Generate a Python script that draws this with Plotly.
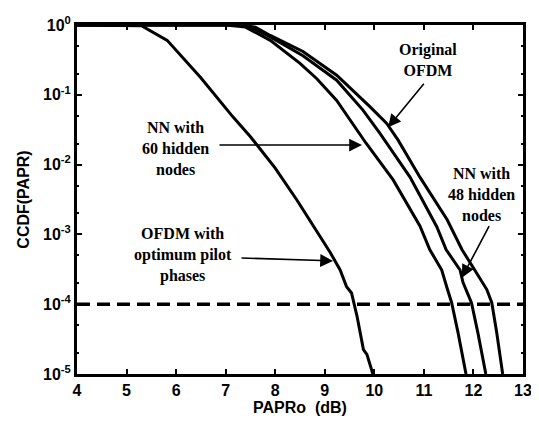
import plotly.graph_objects as go

# ---- data ----
pilot_x = [4.0, 5.0, 5.3, 5.82, 6.49, 7.15, 7.50, 7.70, 8.0, 8.44, 9.11, 9.31, 9.44, 9.54, 9.65, 9.78, 9.85, 9.97]
pilot_y = [1.0, 0.993, 0.977, 0.603, 0.178, 0.0479, 0.0251, 0.0166, 8.91e-3, 3.09e-3, 5.5e-4, 3.09e-4,
           1.78e-4, 1.45e-4, 6.76e-5, 2.24e-5, 1.91e-5, 1.0e-5]

nn60_x = [4.0, 7.0, 7.4, 7.9, 8.5, 8.84, 9.24, 9.83, 10.38, 10.92, 11.12, 11.36, 11.46, 11.56, 11.69, 11.85]
nn60_y = [1.0, 1.0, 0.933, 0.603, 0.282, 0.170, 0.0832, 0.0204, 6.03e-3, 1.32e-3, 6.03e-4, 3.09e-4,
          1.78e-4, 1.05e-4, 3.89e-5, 1.0e-5]

nn48_x = [4.0, 7.2, 7.5, 7.9, 8.56, 9.24, 9.77, 10.11, 10.72, 11.26, 11.45, 11.73, 11.79, 11.96, 12.09, 12.25]
nn48_y = [1.0, 1.0, 0.933, 0.676, 0.363, 0.162, 0.0603, 0.0282, 6.61e-3, 1.29e-3, 6.03e-4, 3.09e-4,
          2.04e-4, 1.05e-4, 3.89e-5, 1.0e-5]

orig_x = [4.0, 7.3, 7.6, 7.9, 8.56, 9.24, 9.91, 10.25, 10.48, 10.92, 11.47, 11.77, 12.06, 12.27, 12.37, 12.47, 12.59]
orig_y = [1.0, 1.0, 0.933, 0.708, 0.417, 0.191, 0.0676, 0.0389, 0.0224, 6.61e-3, 1.62e-3, 6.03e-4,
          2.82e-4, 1.62e-4, 1.05e-4, 3.89e-5, 1.0e-5]

threshold_x = [4, 13]
threshold_y = [1e-4, 1e-4]

x_ticks = [4, 5, 6, 7, 8, 9, 10, 11, 12, 13]
x_ticktext = ["<b>%d</b>" % v for v in x_ticks]
y_ticks = [1e-5, 1e-4, 1e-3, 1e-2, 1e-1, 1]
y_ticktext = ["<b>10<sup>-5</sup></b>", "<b>10<sup>-4</sup></b>", "<b>10<sup>-3</sup></b>",
              "<b>10<sup>-2</sup></b>", "<b>10<sup>-1</sup></b>", "<b>10<sup>0</sup></b>"]

fig = go.Figure()
line_style = dict(color="black", width=3)
for xs, ys, nm in [(pilot_x, pilot_y, "OFDM with optimum pilot phases"),
                   (nn60_x, nn60_y, "NN with 60 hidden nodes"),
                   (nn48_x, nn48_y, "NN with 48 hidden nodes"),
                   (orig_x, orig_y, "Original OFDM")]:
    fig.add_trace(go.Scatter(x=xs, y=ys, mode="lines", line=line_style, name=nm))

fig.add_trace(go.Scatter(x=threshold_x, y=threshold_y, mode="lines",
                         line=dict(color="black", width=3.5, dash="13px,7px"), name="1e-4"))

tick_font = dict(family="Liberation Sans", size=16, color="black")
title_font = dict(family="Liberation Sans", size=16, color="black")
fig.update_layout(
    width=531, height=416,
    margin=dict(l=69, r=16, t=17, b=50),
    paper_bgcolor="white", plot_bgcolor="white",
    showlegend=False,
    xaxis=dict(range=[4, 13], tickvals=x_ticks, ticktext=x_ticktext, ticks="inside", ticklen=5,
               tickwidth=2, tickcolor="black", showline=True, linecolor="black", linewidth=3,
               mirror="ticks", showgrid=False, zeroline=False, tickfont=tick_font, automargin=False,
               title=dict(text="<b>PAPRo  (dB)</b>", font=title_font, standoff=2)),
    yaxis=dict(type="log", range=[-5, 0], tickvals=y_ticks, ticktext=y_ticktext, ticks="inside",
               ticklen=5, tickwidth=2, tickcolor="black", showline=True, linecolor="black",
               linewidth=3, mirror="ticks", showgrid=False, zeroline=False, tickfont=tick_font,
               automargin=False,
               minor=dict(ticks="inside", ticklen=2, tickcolor="black", showgrid=False),
               title=dict(text="<b>CCDF(PAPR)</b>", font=title_font, standoff=10)),
)

ann_font = dict(family="Liberation Serif", size=16, color="black")
texts = [
    ("<b>NN with<br>60 hidden<br>nodes</b>", 0.220, 0.647),
    ("<b>Original<br>OFDM</b>", 0.787, 0.899),
    ("<b>NN with<br>48 hidden<br>nodes</b>", 0.908, 0.513),
    ("<b>OFDM with<br>optimum pilot<br>phases</b>", 0.238, 0.341),
]
for t, x, y in texts:
    fig.add_annotation(text=t, x=x, y=y, xref="paper", yref="paper", showarrow=False,
                       font=ann_font, align="center", xanchor="center", yanchor="middle")

arrows = [
    (0.639, 0.656, -144, 0),
    (0.6975, 0.707, 37, -45),
    (0.863, 0.276, 28, -53),
    (0.574, 0.324, -93, -3),
]
for x, y, ax, ay in arrows:
    fig.add_annotation(text="", x=x, y=y, xref="paper", yref="paper", ax=ax, ay=ay,
                       showarrow=True, arrowhead=2, arrowsize=1.6, arrowwidth=1.6,
                       arrowcolor="black", standoff=0)

fig.write_html("out.html")
